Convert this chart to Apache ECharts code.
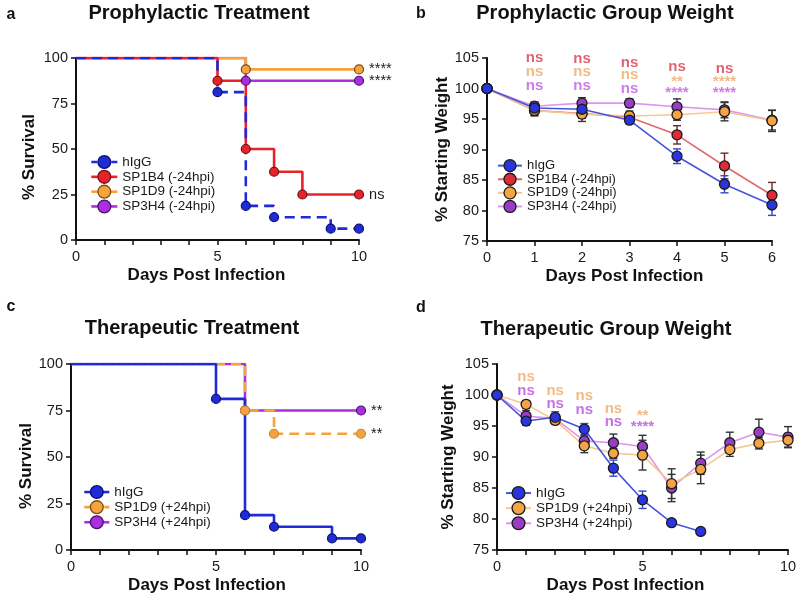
<!DOCTYPE html>
<html>
<head>
<meta charset="utf-8">
<title>Survival and weight</title>
<script src="https://cdn.jsdelivr.net/npm/echarts@6/dist/echarts.min.js"></script>
<style>
html, body { margin: 0; padding: 0; background: #fff; }
#container { width: 800px; height: 596px; }
</style>
</head>
<body>
<div id="container"></div>
<script>
// ---- panel a : prophylactic survival, [day, % survival] at each step ----
var survA_hIgG = [[0, 100], [5, 81.25], [6, 18.75], [7, 12.5], [9, 6.25], [10, 6.25]];
var survA_1B4 = [[0, 100], [5, 87.5], [6, 50], [7, 37.5], [8, 25], [10, 25]];
var survA_1D9 = [[0, 100], [6, 93.75], [10, 93.75]];
var survA_3H4 = [[0, 100], [6, 87.5], [10, 87.5]];

// ---- panel c : therapeutic survival ----
var survC_hIgG = [[0, 100], [5, 81.25], [6, 18.75], [7, 12.5], [9, 6.25], [10, 6.25]];
var survC_1D9 = [[0, 100], [6, 75], [7, 62.5], [10, 62.5]];
var survC_3H4 = [[0, 100], [6, 75], [10, 75]];

// ---- panel b : prophylactic weight (mean, sem) ----
var daysB = [0, 1, 2, 3, 4, 5, 6];
var wB_hIgG = [100, 96.8, 96.6, 94.8, 88.9, 84.3, 80.9];
var wB_1B4 = [100, 96.4, 95.9, 95.3, 92.4, 87.3, 82.5];
var wB_1D9 = [100, 96.4, 95.8, 95.5, 95.7, 96.2, 94.7];
var wB_3H4 = [100, 97.1, 97.6, 97.6, 97.0, 96.5, 94.8];
var semB_hIgG = [0, 0.8, 0.8, 0.6, 1.2, 1.4, 1.7];
var semB_1B4 = [0, 0.8, 0.8, 0.7, 1.5, 2.1, 2.1];
var semB_1D9 = [0, 0.9, 1.2, 0.8, 0.9, 1.5, 1.75];
var semB_3H4 = [0, 0.7, 0.9, 0.7, 1.3, 1.3, 1.6];

// ---- panel d : therapeutic weight ----
var daysD = [0, 1, 2, 3, 4, 5, 6, 7, 8, 9, 10];
var daysD_hIgG = [0, 1, 2, 3, 4, 5, 6, 7];
var wD_hIgG = [100, 95.8, 96.4, 94.5, 88.2, 83.1, 79.4, 78.0];
var wD_1D9 = [100, 98.5, 95.9, 91.8, 90.6, 90.3, 85.7, 88.0, 91.2, 92.2, 92.7];
var wD_3H4 = [100, 96.6, 96.2, 92.6, 92.3, 91.7, 85.0, 89.0, 92.3, 94.0, 93.2];
var semD_hIgG = [0, 0.7, 0.9, 0.9, 1.3, 1.4, 0.4, 0.3];
var semD_1D9 = [0, 0.6, 0.6, 1.1, 0.8, 2.4, 2.4, 2.3, 1.1, 0.9, 1.1];
var semD_3H4 = [0, 0.9, 0.6, 0.8, 1.4, 1.8, 2.2, 1.8, 1.7, 2.1, 1.7];

// significance marks
var sigA = { hIgG: '', b4: 'ns', d9: '****', h4: '****' };
var sigC = { hIgG: '', d9: '**', h4: '**' };
var sigDaysB = [1, 2, 3, 4, 5];
var sigB_1B4 = ['ns', 'ns', 'ns', 'ns', 'ns'];
var sigB_1D9 = ['ns', 'ns', 'ns', '**', '****'];
var sigB_3H4 = ['ns', 'ns', 'ns', '****', '****'];
var sigDaysD = [1, 2, 3, 4, 5];
var sigD_1D9 = ['ns', 'ns', 'ns', 'ns', '**'];
var sigD_3H4 = ['ns', 'ns', 'ns', 'ns', '****'];
// height (in % units) where each row of marks is written
var sigLevelB_1B4 = [105.1, 104.8, 104.2, 103.5, 103.3];
var sigLevelB_1D9 = [102.8, 102.8, 102.2, 101.1, 101.1];
var sigLevelB_3H4 = [100.5, 100.5, 100.0, 99.3, 99.3];
var sigLevelD_1D9 = [102.9, 100.6, 99.8, 97.8, 96.6];
var sigLevelD_3H4 = [100.7, 98.5, 97.6, 95.6, 94.8];

var FONT = '"Liberation Sans", Arial, Helvetica, sans-serif';
var BLUE = '#1f2bd9', RED = '#e8222b', ORANGE = '#f5a33f', PURPLE = '#a92fe0';

// Kaplan-Meier step line
function kmSeries(name, pts, grid, color, border, dash, sig) {
	return {
		type: 'line', name: name, xAxisIndex: grid, yAxisIndex: grid,
		step: 'end', symbol: 'circle', symbolSize: 9, showAllSymbol: true,
		lineStyle: { color: color, width: 2.6, type: dash ? [10, 6] : 'solid' },
		itemStyle: { color: color, borderColor: border, borderWidth: 1.2 },
		data: pts.map(function(p, i) {
			var item = { value: p };
			if (i === 0) item.symbol = 'none';
			if (i === pts.length - 1 && sig) {
				item.label = { show: true, position: 'right', distance: 5, formatter: sig,
					fontSize: 14.5, color: '#1a1a1a', fontFamily: FONT };
			}
			return item;
		})
	};
}

// mean weight line
function weightSeries(name, days, vals, grid, fill, line) {
	return {
		type: 'line', name: name, xAxisIndex: grid, yAxisIndex: grid,
		symbol: 'circle', symbolSize: 10, showAllSymbol: true,
		lineStyle: { color: line, width: 1.6 },
		itemStyle: { color: fill, borderColor: '#1c1c1c', borderWidth: 1.3 },
		data: days.map(function(d, i) { return [d, vals[i]]; })
	};
}

// sem error bars
function errSeries(days, vals, sem, grid, color) {
	var rows = [];
	days.forEach(function(d, i) {
		if (sem[i] > 0) rows.push([d, vals[i] - sem[i], vals[i] + sem[i]]);
	});
	return {
		type: 'custom', xAxisIndex: grid, yAxisIndex: grid, z: 1, silent: true,
		encode: { x: 0, y: [1, 2] },
		data: rows,
		renderItem: function(params, api) {
			var lo = api.coord([api.value(0), api.value(1)]);
			var hi = api.coord([api.value(0), api.value(2)]);
			var w = 4;
			var st = { stroke: color, lineWidth: 1.4 };
			return { type: 'group', children: [
				{ type: 'line', shape: { x1: lo[0], y1: lo[1], x2: hi[0], y2: hi[1] }, style: st },
				{ type: 'line', shape: { x1: lo[0] - w, y1: lo[1], x2: lo[0] + w, y2: lo[1] }, style: st },
				{ type: 'line', shape: { x1: hi[0] - w, y1: hi[1], x2: hi[0] + w, y2: hi[1] }, style: st }
			] };
		}
	};
}

// row of significance marks above the weight curves
function sigSeries(days, levels, marks, grid, color) {
	return {
		type: 'scatter', xAxisIndex: grid, yAxisIndex: grid, clip: false, silent: true,
		symbolSize: 1, itemStyle: { color: 'rgba(0,0,0,0)' }, z: 5,
		label: { show: true, position: 'inside', color: color, fontSize: 15, fontWeight: 'bold',
			fontFamily: FONT, formatter: function(p) { return p.value[2]; } },
		data: days.map(function(d, i) { return [d, levels[i], marks[i]]; })
	};
}

function xAxis(grid, max, name, shift) {
	return {
		type: 'value', gridIndex: grid, min: 0, max: max, interval: 1,
		name: name, nameLocation: 'middle', nameGap: 27,
		nameTextStyle: { fontSize: 17, fontWeight: 'bold', color: '#111', fontFamily: FONT,
			padding: [0, shift, 0, 0] },
		axisLine: { lineStyle: { color: '#111', width: 2 } },
		axisTick: { length: 5, lineStyle: { color: '#111', width: 1.5 } },
		axisLabel: { fontSize: 14.5, color: '#1a1a1a', margin: 9, fontFamily: FONT,
			formatter: function(v) { return (max === 10 && v % 5 !== 0) ? '' : v; } },
		splitLine: { show: false }
	};
}

function yAxis(grid, min, max, step, name, gap, shift) {
	return {
		type: 'value', gridIndex: grid, min: min, max: max, interval: step,
		name: name, nameLocation: 'middle', nameGap: gap,
		nameTextStyle: { fontSize: 17, fontWeight: 'bold', color: '#111', fontFamily: FONT,
			padding: [0, shift, 0, 0] },
		axisLine: { show: true, lineStyle: { color: '#111', width: 2 } },
		axisTick: { show: true, length: 5, lineStyle: { color: '#111', width: 1.5 } },
		axisLabel: { fontSize: 14.5, color: '#1a1a1a', margin: 8, fontFamily: FONT },
		splitLine: { show: false }
	};
}

function legendItem(name, color, border, lineColor, width, dash) {
	return {
		name: name,
		itemStyle: { color: color, borderColor: border, borderWidth: 1.3 },
		lineStyle: { color: lineColor, width: width, type: dash ? [6, 4] : 'solid' }
	};
}

function legend(left, top, w, h, gap, size, items) {
	return {
		orient: 'vertical', left: left, top: top, itemWidth: w, itemHeight: h, itemGap: gap,
		selectedMode: false, padding: 0,
		textStyle: { fontSize: size, color: '#1a1a1a', fontFamily: FONT },
		data: items
	};
}

function heading(text, x, y, size) {
	return { type: 'text', x: x, y: y, silent: true,
		style: { text: text, fill: '#111', textAlign: 'center', textVerticalAlign: 'middle',
			font: 'bold ' + size + 'px ' + FONT } };
}

var myChart = echarts.init(document.getElementById('container'));

var option = {
	animation: false,
	textStyle: { fontFamily: FONT },
	graphic: [
		heading('a', 11, 15, 16), heading('b', 421, 14, 16),
		heading('c', 11, 307, 16), heading('d', 421, 308, 16),
		heading('Prophylactic Treatment', 199, 13, 20),
		heading('Prophylactic Group Weight', 605, 13, 20),
		heading('Therapeutic Treatment', 192, 328, 20),
		heading('Therapeutic Group Weight', 606, 329, 20)
	],
	grid: [
		{ left: 76, top: 58, width: 283, height: 182 },
		{ left: 487, top: 58, width: 285, height: 183 },
		{ left: 71, top: 364, width: 290, height: 186 },
		{ left: 497, top: 364, width: 291, height: 186 }
	],
	xAxis: [
		xAxis(0, 10, 'Days Post Infection', 22),
		xAxis(1, 6, 'Days Post Infection', 10),
		xAxis(2, 10, 'Days Post Infection', 18),
		xAxis(3, 10, 'Days Post Infection', 34)
	],
	yAxis: [
		yAxis(0, 0, 100, 25, '% Survival', 38, 16),
		yAxis(1, 75, 105, 5, '% Starting Weight', 35, 0),
		yAxis(2, 0, 100, 25, '% Survival', 33, 18),
		yAxis(3, 75, 105, 5, '% Starting Weight', 40, 0)
	],
	legend: [
		legend(90, 155, 26, 16, 0.7, 13.5, [
			legendItem('hIgG', BLUE, '#0c1270', BLUE, 2.6, true),
			legendItem('SP1B4 (-24hpi)', RED, '#701010', RED, 2.6, false),
			legendItem('SP1D9 (-24hpi)', ORANGE, '#7a4c10', ORANGE, 2.6, false),
			legendItem('SP3H4 (-24hpi)', PURPLE, '#4c1070', PURPLE, 2.6, false)
		]),
		legend(497, 159, 24, 15, 0.3, 13, [
			legendItem('hIgG', '#2a35e0', '#1c1c1c', '#4656dc', 2, false),
			legendItem('SP1B4 (-24hpi)', '#e02a35', '#1c1c1c', '#e06a6a', 2, false),
			legendItem('SP1D9 (-24hpi)', '#f5a443', '#1c1c1c', '#f6c890', 2, false),
			legendItem('SP3H4 (-24hpi)', '#9a3cc8', '#1c1c1c', '#dc96ec', 2, false)
		]),
		legend(83, 485, 25, 16, 1, 13.5, [
			legendItem('hIgG', BLUE, '#0c1270', BLUE, 2.6, false),
			legendItem('SP1D9 (+24hpi)', ORANGE, '#7a4c10', ORANGE, 2.6, true),
			legendItem('SP3H4 (+24hpi)', PURPLE, '#4c1070', PURPLE, 2.6, false)
		]),
		legend(505, 486, 25, 16, 1, 13.5, [
			legendItem('hIgG', '#2a35e0', '#1c1c1c', '#4656dc', 2, false),
			legendItem('SP1D9 (+24hpi)', '#f5a443', '#1c1c1c', '#f6c890', 2, false),
			legendItem('SP3H4 (+24hpi)', '#9a3cc8', '#1c1c1c', '#dc96ec', 2, false)
		])
	],
	series: [
		// a: bottom to top purple, orange, red, blue
		kmSeries('SP3H4 (-24hpi)', survA_3H4, 0, PURPLE, '#4c1070', false, sigA.h4),
		kmSeries('SP1D9 (-24hpi)', survA_1D9, 0, ORANGE, '#7a4c10', false, sigA.d9),
		kmSeries('SP1B4 (-24hpi)', survA_1B4, 0, RED, '#701010', false, sigA.b4),
		kmSeries('hIgG', survA_hIgG, 0, BLUE, '#0c1270', true, sigA.hIgG),

		// b
		errSeries(daysB, wB_3H4, semB_3H4, 1, '#333'),
		errSeries(daysB, wB_1D9, semB_1D9, 1, '#333'),
		errSeries(daysB, wB_1B4, semB_1B4, 1, '#6a2a2a'),
		errSeries(daysB, wB_hIgG, semB_hIgG, 1, '#3444cc'),
		weightSeries('SP3H4 (-24hpi)', daysB, wB_3H4, 1, '#9a3cc8', '#dc96ec'),
		weightSeries('SP1B4 (-24hpi)', daysB, wB_1B4, 1, '#e02a35', '#e06a6a'),
		weightSeries('SP1D9 (-24hpi)', daysB, wB_1D9, 1, '#f5a443', '#f6c890'),
		weightSeries('hIgG', daysB, wB_hIgG, 1, '#2a35e0', '#4656dc'),
		sigSeries(sigDaysB, sigLevelB_1B4, sigB_1B4, 1, '#d93a4a'),
		sigSeries(sigDaysB, sigLevelB_1D9, sigB_1D9, 1, '#efaa66'),
		sigSeries(sigDaysB, sigLevelB_3H4, sigB_3H4, 1, '#c35ae6'),

		// c: bottom to top purple, orange, blue
		kmSeries('SP3H4 (+24hpi)', survC_3H4, 2, PURPLE, '#4c1070', false, sigC.h4),
		kmSeries('SP1D9 (+24hpi)', survC_1D9, 2, ORANGE, '#c88a3a', true, sigC.d9),
		kmSeries('hIgG', survC_hIgG, 2, BLUE, '#0c1270', false, sigC.hIgG),

		// d
		errSeries(daysD, wD_3H4, semD_3H4, 3, '#333'),
		errSeries(daysD, wD_1D9, semD_1D9, 3, '#333'),
		errSeries(daysD_hIgG, wD_hIgG, semD_hIgG, 3, '#3444cc'),
		weightSeries('SP3H4 (+24hpi)', daysD, wD_3H4, 3, '#9a3cc8', '#dc96ec'),
		weightSeries('SP1D9 (+24hpi)', daysD, wD_1D9, 3, '#f5a443', '#f6c890'),
		weightSeries('hIgG', daysD_hIgG, wD_hIgG, 3, '#2a35e0', '#4656dc'),
		sigSeries(sigDaysD, sigLevelD_1D9, sigD_1D9, 3, '#efaa66'),
		sigSeries(sigDaysD, sigLevelD_3H4, sigD_3H4, 3, '#b84de0')
	]
};

myChart.setOption(option);
</script>
</body>
</html>
